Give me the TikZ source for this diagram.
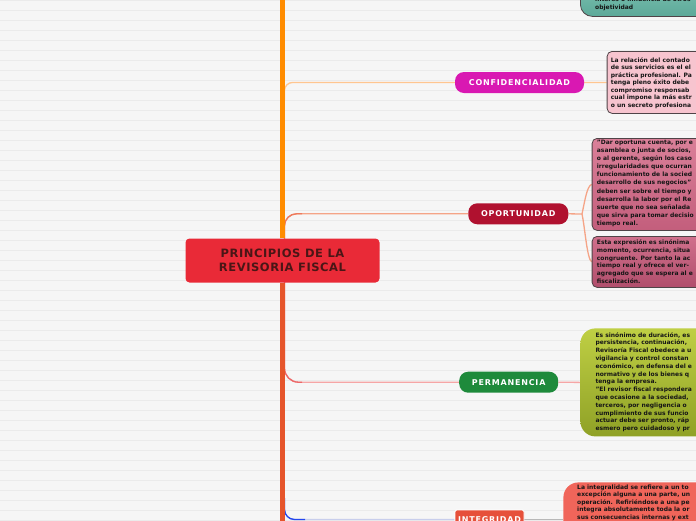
\documentclass[tikz,border=0pt]{standalone}
\usepackage{fontspec}
\setmainfont{DejaVu Sans}
\definecolor{bgc}{HTML}{F6F6F6}
\definecolor{rulec}{HTML}{EBEBEB}
\definecolor{trunkA}{HTML}{FF8C00}
\definecolor{trunkB}{HTML}{E6552B}
\definecolor{confc}{HTML}{D918B2}
\definecolor{confl}{HTML}{FFC690}
\definecolor{confbg}{HTML}{F7C4CF}
\definecolor{oppc}{HTML}{B0112F}
\definecolor{oppl}{HTML}{F5A487}
\definecolor{oppd}{HTML}{EE7A5C}
\definecolor{opponet}{HTML}{DA8099}
\definecolor{opponeb}{HTML}{C35E7C}
\definecolor{opptwot}{HTML}{D0708C}
\definecolor{opptwob}{HTML}{B14E6C}
\definecolor{permc}{HTML}{1E8A3B}
\definecolor{perml}{HTML}{F6A6A6}
\definecolor{permd}{HTML}{EC6868}
\definecolor{permt}{HTML}{BFCF44}
\definecolor{permb}{HTML}{8FA126}
\definecolor{integc}{HTML}{E6503A}
\definecolor{integl}{HTML}{C8CEEC}
\definecolor{integd}{HTML}{2346EE}
\definecolor{integbg}{HTML}{F0655A}
\definecolor{integg}{HTML}{B8B8B8}
\definecolor{tealt}{HTML}{93D3C3}
\definecolor{tealb}{HTML}{5DA999}
\definecolor{centc}{HTML}{E92A37}
\definecolor{centt}{HTML}{4A1616}
\definecolor{boxline}{HTML}{504448}
\definecolor{txt}{HTML}{161616}
\pgfdeclarelayer{bg}
\pgfdeclarelayer{links}
\pgfsetlayers{bg,links,main}
\begin{document}
\begin{tikzpicture}[x=1pt,y=-1pt,
  catnode/.style={rectangle, rounded corners=9pt, minimum height=21pt, inner sep=0pt, text=white,
    font=\fontsize{8}{9}\selectfont\bfseries\addfontfeature{LetterSpace=10}},
  centnode/.style={rectangle, rounded corners=4pt, fill=centc, minimum width=194pt, minimum height=44pt,
    inner sep=0pt, align=center, text=centt,
    font=\fontsize{11.5}{14}\selectfont\bfseries\addfontfeature{LetterSpace=5}},
  textbox/.style={rectangle, anchor=north west, inner sep=0pt, rounded corners=5pt, draw=boxline, line width=0.8pt},
  boxtext/.style={anchor=north west, inner sep=0pt, align=left, text=txt},
  link/.style={line width=1.3pt},
]
\useasboundingbox (0,0) rectangle (696,520);
\begin{pgfonlayer}{bg}
\fill[bgc] (0,0) rectangle (696,520);
\foreach \i in {0,...,52} \draw[rulec, line width=0.9pt] (0,10*\i) -- (696,10*\i);
\end{pgfonlayer}

% main and category nodes
\node[centnode] (center) at (282.5,260.5) {PRINCIPIOS DE LA\\REVISORIA FISCAL};
\node[catnode, fill=confc, minimum width=129pt] (conf) at (519.5,82.5) {CONFIDENCIALIDAD};
\node[catnode, fill=oppc, minimum width=100pt] (opp) at (518.3,213.8) {OPORTUNIDAD};
\node[catnode, fill=permc, minimum width=99pt] (perm) at (508.7,382.2) {PERMANENCIA};
\node[catnode, fill=integc, rounded corners=1.5pt, draw=white, line width=0.8pt, minimum width=69pt, minimum height=19pt] (integ) at (489.5,519.5) {INTEGRIDAD};

% text boxes
\node[textbox, rounded corners=12pt, top color=tealt, bottom color=tealb, minimum width=140pt, minimum height=60pt] (topbox) at (580,-44) {};
\node[textbox, fill=confbg, minimum width=120pt, minimum height=62pt] (confbox) at (606.7,51) {};
\node[textbox, top color=opponet, bottom color=opponeb, minimum width=130pt, minimum height=92pt] (oppbox1) at (591.7,138) {};
\node[textbox, top color=opptwot, bottom color=opptwob, minimum width=130pt, minimum height=51pt] (oppbox2) at (591.7,236) {};
\node[textbox, draw=none, rounded corners=15pt, top color=permt, bottom color=permb, minimum width=140pt, minimum height=108pt] (permbox) at (580,328) {};
\node[textbox, draw=none, rounded corners=15pt, fill=integbg, minimum width=150pt, minimum height=70pt] (integbox) at (563,482) {};

% texts
\node[boxtext, font=\fontsize{6}{7.8}\selectfont\bfseries] (toptext) at (595,-3.4)
  {interes o influencia de otros\\objetividad};
\node[boxtext, font=\fontsize{6}{7.5}\selectfont\bfseries] (conftext) at (610.7,57.1)
  {La relación del contado\\de sus servicios es el el\\práctica profesional. Pa\\tenga pleno éxito debe\\compromiso responsab\\cual impone la más estr\\o un secreto profesiona};
\node[boxtext, font=\fontsize{6}{8.1}\selectfont\bfseries] (opptext1) at (596.7,139.9)
  {"Dar oportuna cuenta, por e\\asamblea o junta de socios,\\o al gerente, según los caso\\irregularidades que ocurran\\funcionamiento de la socied\\desarrollo de sus negocios"\\deben ser sobre el tiempo y\\desarrolla la labor por el Re\\suerte que no sea señalada\\que sirva para tomar decisio\\tiempo real.};
\node[boxtext, font=\fontsize{6}{7.8}\selectfont\bfseries] (opptext2) at (596.7,239.4)
  {Esta expresión es sinónima\\momento, ocurrencia, situa\\congruente. Por tanto la ac\\tiempo real y ofrece el ver-\\agregado que se espera al e\\fiscalización.};
\node[boxtext, font=\fontsize{6}{7.8}\selectfont\bfseries] (permtext) at (595.3,332.1)
  {Es sinónimo de duración, es\\persistencia, continuación,\\Revisoría Fiscal obedece a u\\vigilancia y control constan\\económico, en defensa del e\\normativo y de los bienes q\\tenga la empresa.\\"El revisor fiscal respondera\\que ocasione a la sociedad,\\terceros, por negligencia o\\cumplimiento de sus funcio\\actuar debe ser pronto, ráp\\esmero pero cuidadoso y pr};
\node[boxtext, font=\fontsize{6}{7.5}\selectfont\bfseries] (integtext) at (577,484.4)
  {La integralidad se refiere a un to\\excepción alguna a una parte, un\\operación. Refiriéndose a una pe\\integra absolutamente toda la or\\sus consecuencias internas y ext};

% connectors
\begin{pgfonlayer}{links}
\coordinate (ttop) at (282.5,-10);
\coordinate (tbot) at (282.5,530);
\coordinate (cb) at (284.5,100);
\coordinate (ob) at (284.5,250);
\coordinate (oc) at (302,213.8);
\coordinate (pb) at (284.5,275);
\coordinate (pc) at (302,382.2);
\coordinate (ib) at (284.5,498);
\coordinate (ic) at (305,519.5);
\coordinate (oj) at (582,214);
\draw[link, confl, rounded corners=8pt] (cb) |- (conf.west);
\draw[link, confl] (conf.east) -- (confbox.west);
\draw[link, oppl, rounded corners=12pt] (ob) |- (opp.west);
\draw[link, oppd, rounded corners=12pt] (ob) |- (oc);
\draw[link, oppl] (opp.east) -- (oj);
\draw[link, oppl] (oj) .. controls (585,200) and (587,186) .. (oppbox1.west);
\draw[link, oppl] (oj) .. controls (585,228) and (587,259) .. (oppbox2.west);
\draw[link, perml, rounded corners=14pt] (pb) |- (perm.west);
\draw[link, permd, rounded corners=14pt] (pb) |- (pc);
\draw[link, perml] (perm.east) -- (permbox.west);
\draw[link, integl, rounded corners=10pt] (ib) |- (integ.west);
\draw[link, integd, rounded corners=10pt] (ib) |- (ic);
\draw[link, integg] (integ.east) -- (integ.east -| integbox.west);
\draw[line width=5pt, trunkA] (center.north) -- (ttop);
\draw[line width=5pt, trunkB] (center.south) -- (tbot);
\end{pgfonlayer}
\end{tikzpicture}
\end{document}
